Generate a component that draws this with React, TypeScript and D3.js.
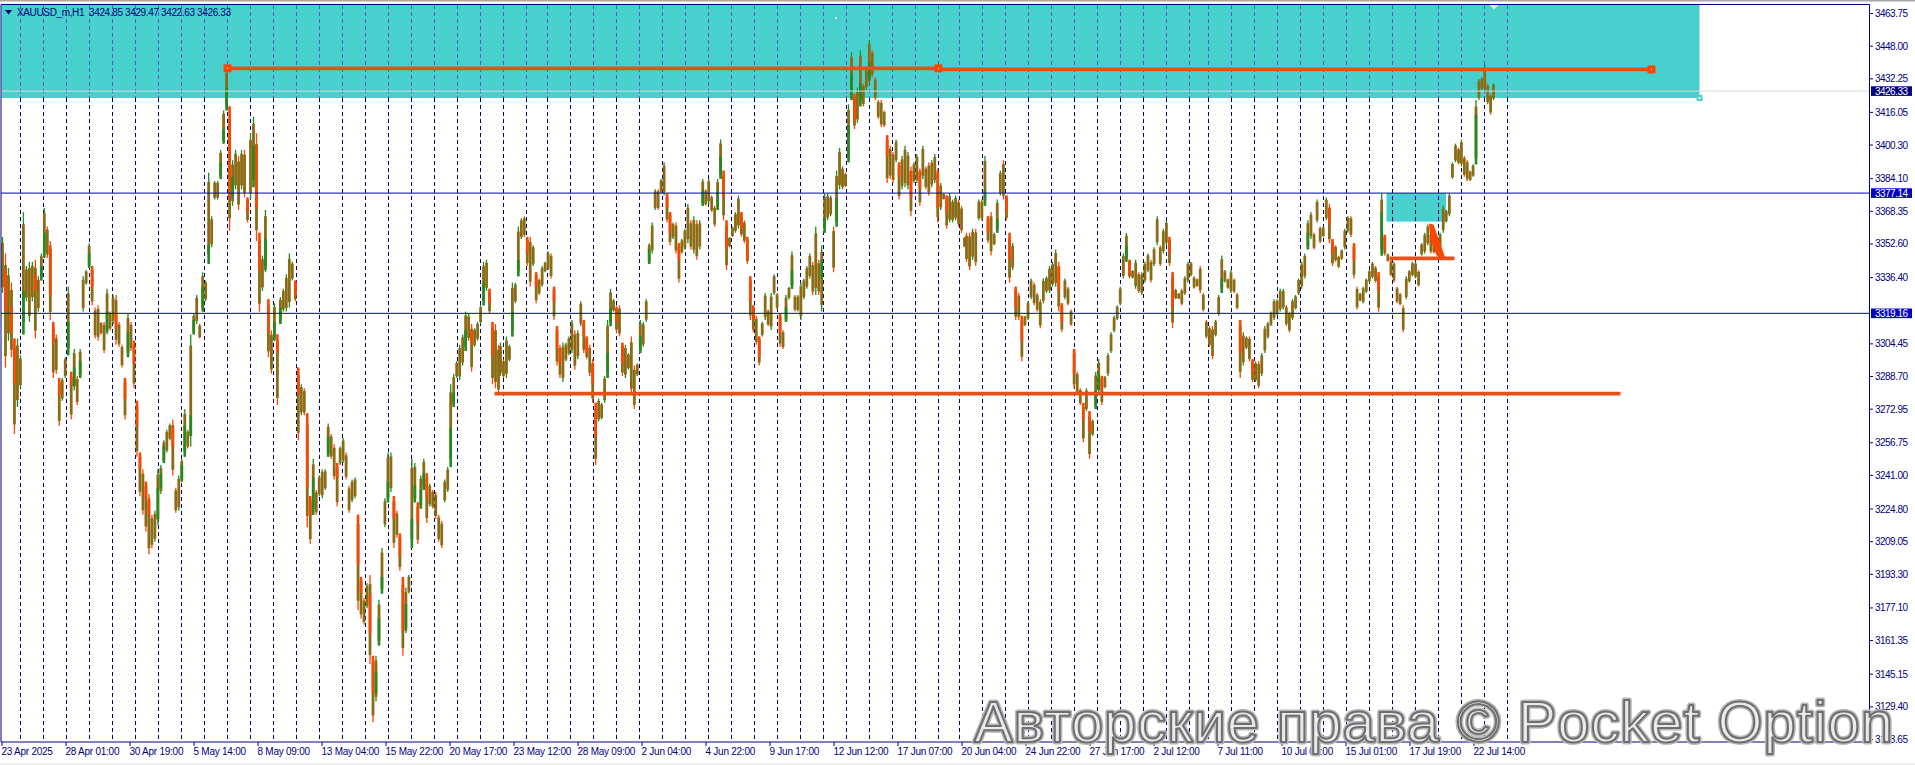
import React from "react";
import * as d3 from "d3";

const W = 1915, H = 765;
type Row = [number, number, number];

const aprilMayBars: Row[] = [
[3356,3329,3340],[3348,3293,3320],[3341,3306,3322],[3334,3298,3310],[3307,3261,3285],[3307,3274,3290],[3299,3283,3296],[3368,3309,3330],
[3342,3325,3335],[3344,3315,3335],[3344,3325,3338],[3345,3307,3330],[3337,3320,3330],[3348,3335,3342],[3370,3346,3358],[3361,3346,3352],
[3354,3316,3328],[3315,3288,3305],[3309,3290,3300],[3288,3265,3280],[3288,3277,3284],[3298,3288,3294],[3332,3299,3315],[3291,3268,3284],
[3302,3282,3293],[3289,3275,3285],[3302,3288,3296],[3337,3320,3325],[3340,3333,3337],[3353,3341,3348],[3342,3323,3332],[3322,3307,3317],
[3323,3306,3315],[3315,3309,3313],[3315,3300,3310],[3331,3309,3320],[3320,3311,3318],[3328,3314,3320],[3328,3304,3312],[3315,3303,3310],
[3304,3293,3298],[3288,3268,3278],[3319,3298,3310],[3315,3301,3308],[3306,3283,3295],[3277,3250,3265],[3252,3231,3244],[3244,3222,3238],
[3238,3214,3230],[3232,3203,3222],[3222,3206,3218],[3224,3209,3220],[3244,3217,3235],[3246,3232,3242],[3258,3247,3255],[3263,3252,3260],
[3266,3258,3264],[3268,3241,3255],[3235,3223,3232],[3241,3224,3236],[3249,3238,3246],[3273,3250,3265],[3263,3254,3260],[3309,3255,3270],
[3319,3309,3316],[3328,3314,3322],[3314,3307,3312],[3339,3320,3332],[3335,3325,3332],[3387,3343,3352],[3366,3351,3358],[3383,3374,3378],
[3383,3374,3380],[3398,3384,3392],[3417,3401,3408],[3437,3417,3428],[3419,3359,3375],[3393,3371,3385],[3398,3379,3386],[3395,3369,3380],
[3398,3379,3386],[3398,3375,3382],[3375,3363,3368],[3406,3374,3380],[3414,3380,3400],[3406,3354,3370],[3358,3320,3340],[3347,3330,3340],
[3369,3339,3355],[3326,3298,3310],[3311,3290,3305],[3324,3306,3315],[3309,3275,3300],[3327,3314,3322],[3331,3320,3326],[3338,3320,3332],
[3348,3322,3338],[3344,3335,3340],[3335,3325,3328],[3293,3258,3280],[3285,3270,3280],[3283,3270,3278],[3271,3216,3235],[3231,3208,3222],
[3249,3222,3240],[3234,3222,3232],[3241,3231,3238],[3244,3230,3240],[3244,3234,3240],[3266,3250,3260],[3261,3249,3256],[3256,3239,3250],
[3247,3226,3240],[3255,3246,3252],[3259,3247,3254],[3252,3239,3246],[3236,3223,3232],[3239,3228,3236],[3240,3230,3236],[3222,3176,3198],
[3192,3172,3184],[3182,3169,3178],[3189,3177,3184],[3193,3150,3165],[3154,3122,3136],[3154,3132,3146],[3181,3159,3172],[3206,3184,3192],
[3230,3216,3222],[3252,3228,3238],[3252,3233,3243],[3231,3206,3220],[3224,3211,3218],[3213,3195,3202],[3192,3154,3166],[3187,3165,3179],
[3193,3184,3189],[3249,3206,3220],[3247,3228,3236],[3228,3208,3218],[3241,3225,3234],[3249,3234,3242],[3242,3218,3230],[3237,3226,3232],
[3234,3225,3230],[3233,3220,3224],[3222,3209,3216],[3219,3206,3211],[3239,3228,3234],[3245,3233,3240],[3285,3245,3264],[3290,3274,3281],
[3296,3288,3291],[3304,3287,3297],[3309,3294,3301],[3320,3301,3311],[3319,3306,3311],[3314,3291,3304],[3312,3303,3307],[3315,3306,3311],
[3323,3314,3319],[3344,3323,3334],[3345,3330,3337],[3331,3319,3324],[3315,3285,3299],[3314,3283,3294],[3304,3280,3291],
];

const juneBars: Row[] = [
[3305,3289,3295],[3297,3288,3292],[3308,3288,3298],[3304,3296,3300],[3334,3308,3320],[3334,3324,3328],[3361,3337,3345],[3365,3355,3360],
[3366,3356,3358],[3356,3342,3348],[3356,3332,3345],[3352,3342,3348],[3339,3324,3332],[3336,3328,3330],[3342,3332,3335],[3344,3339,3342],
[3349,3340,3345],[3348,3336,3342],[3332,3316,3325],[3313,3294,3302],[3304,3288,3295],[3305,3286,3295],[3305,3296,3300],[3308,3299,3303],
[3316,3300,3305],[3311,3292,3300],[3311,3297,3305],[3325,3313,3318],[3316,3300,3308],[3308,3297,3300],[3304,3289,3295],[3297,3276,3285],
[3276,3246,3260],[3278,3267,3272],[3276,3268,3272],[3289,3276,3280],[3316,3288,3300],[3331,3313,3322],[3326,3320,3322],[3323,3310,3315],
[3323,3308,3312],[3305,3289,3295],[3304,3288,3295],[3300,3292,3296],[3308,3280,3290],[3294,3273,3285],[3295,3289,3292],[3316,3300,3308],
[3315,3303,3310],[3326,3315,3320],[3353,3343,3350],[3363,3348,3355],[3379,3369,3375],[3379,3369,3372],[3384,3377,3380],[3392,3376,3382],
[3377,3363,3370],[3368,3352,3358],[3363,3355,3358],[3363,3348,3356],[3353,3334,3345],[3355,3348,3352],[3360,3350,3355],[3372,3353,3360],
[3364,3350,3356],[3366,3348,3356],[3364,3345,3352],[3364,3350,3358],[3384,3371,3378],[3379,3371,3375],[3384,3372,3378],[3376,3368,3372],
[3371,3361,3365],[3384,3369,3378],[3403,3384,3395],[3388,3364,3375],[3364,3340,3350],[3356,3351,3354],[3361,3356,3358],[3368,3358,3362],
[3376,3360,3368],[3368,3356,3360],[3364,3353,3358],[3356,3343,3345],[3337,3316,3325],[3323,3310,3316],[3318,3304,3310],[3308,3294,3298],
[3315,3308,3311],[3329,3316,3322],[3321,3313,3316],[3329,3311,3318],[3338,3328,3334],[3329,3321,3324],[3319,3303,3310],[3311,3302,3306],
[3328,3315,3322],[3332,3326,3330],[3349,3331,3340],[3328,3320,3324],[3328,3320,3324],[3334,3316,3325],[3336,3326,3330],[3342,3331,3336],
[3348,3336,3342],[3344,3328,3336],[3361,3328,3340],[3345,3328,3336],[3352,3320,3345],[3377,3358,3365],[3377,3364,3370],[3376,3366,3372],
[3361,3339,3355],[3388,3361,3375],[3399,3379,3385],[3390,3379,3385],[3387,3380,3384],
];

const midJuneBars: Row[] = [
[3420,3392,3410],[3445,3422,3435],[3425,3408,3412],[3428,3411,3418],[3446,3419,3430],[3430,3419,3425],[3438,3427,3432],[3451,3429,3440],
[3446,3433,3438],[3433,3422,3428],[3422,3413,3417],[3422,3409,3415],[3417,3409,3412],[3405,3382,3395],[3400,3384,3392],[3397,3382,3390],
[3403,3392,3398],[3392,3374,3385],[3395,3379,3386],[3400,3380,3388],[3397,3379,3388],[3390,3366,3375],[3392,3382,3385],[3396,3382,3388],
[3389,3371,3380],[3400,3384,3390],[3390,3379,3385],[3392,3376,3382],[3393,3380,3386],[3396,3382,3388],[3389,3363,3370],[3382,3369,3375],
[3377,3374,3376],[3376,3360,3368],[3377,3363,3368],[3374,3363,3370],[3376,3364,3370],[3374,3361,3366],[3371,3358,3362],[3356,3351,3353],
];

const lateJuneJulyBars: Row[] = [
[3358,3344,3350],[3358,3340,3348],[3360,3345,3350],[3360,3342,3346],[3374,3364,3370],[3374,3364,3368],[3395,3371,3378],[3366,3353,3358],
[3368,3347,3355],[3358,3352,3355],[3374,3358,3365],[3388,3376,3382],[3393,3374,3380],[3376,3364,3368],[3358,3334,3345],[3353,3340,3346],
[3332,3316,3322],[3329,3316,3320],[3318,3296,3306],[3318,3313,3315],[3325,3316,3320],[3336,3326,3330],[3334,3323,3328],[3329,3320,3325],
[3326,3312,3320],[3336,3324,3328],[3337,3329,3332],[3342,3329,3336],[3344,3332,3338],[3350,3332,3342],[3344,3320,3330],[3324,3310,3315],
[3336,3326,3330],[3332,3323,3326],[3321,3313,3316],[3302,3283,3290],[3291,3280,3285],[3283,3275,3280],[3276,3257,3268],[3283,3272,3276],
[3272,3249,3262],[3268,3260,3264],[3291,3273,3282],[3297,3281,3290],[3289,3275,3282],[3289,3283,3286],[3300,3289,3295],[3310,3300,3305],
[3318,3310,3314],[3323,3316,3320],[3332,3323,3328],[3348,3336,3342],[3358,3344,3352],[3345,3336,3338],[3340,3336,3338],[3345,3331,3338],
[3339,3329,3334],[3339,3328,3334],[3344,3334,3338],[3348,3339,3344],[3345,3334,3340],[3351,3342,3346],[3366,3352,3358],[3352,3342,3346],
[3360,3348,3354],[3364,3352,3358],[3356,3342,3348],[3339,3312,3322],[3331,3326,3328],[3329,3326,3327],[3331,3323,3326],[3337,3328,3332],
[3344,3334,3340],[3344,3337,3341],[3337,3331,3334],[3336,3332,3333],[3342,3329,3332],[3329,3320,3324],[3316,3307,3310],[3313,3303,3308],
[3313,3297,3304],[3316,3308,3312],[3328,3318,3322],[3347,3329,3336],[3340,3334,3337],[3336,3331,3333],[3340,3329,3334],[3336,3329,3332],
[3329,3321,3325],[3316,3288,3300],[3310,3294,3302],[3308,3302,3305],[3308,3296,3300],[3297,3286,3290],[3296,3286,3290],[3296,3283,3288],
[3300,3289,3294],[3313,3300,3306],[3315,3307,3310],[3320,3313,3316],[3326,3316,3320],[3326,3318,3322],[3331,3320,3326],[3331,3321,3326],
[3323,3313,3318],[3320,3310,3314],[3326,3316,3322],[3328,3321,3324],[3336,3328,3332],[3344,3331,3338],[3348,3336,3342],[3364,3350,3358],
[3368,3355,3360],[3358,3350,3354],[3374,3363,3368],[3361,3353,3356],[3361,3356,3358],[3375,3364,3370],[3372,3353,3362],[3355,3342,3348],
[3352,3344,3347],[3347,3341,3344],[3350,3345,3348],[3360,3350,3355],[3366,3358,3362],[3366,3356,3360],[3353,3336,3345],[3332,3321,3326],
[3329,3325,3327],[3332,3324,3328],[3336,3329,3332],[3340,3334,3338],[3344,3336,3340],[3342,3334,3339],[3339,3320,3330],[3377,3347,3368],
[3357,3347,3350],[3348,3344,3346],[3345,3337,3340],[3344,3334,3338],[3332,3324,3328],[3329,3323,3326],[3323,3310,3318],[3337,3326,3332],
[3340,3334,3337],[3344,3337,3340],[3344,3336,3340],[3340,3332,3336],[3353,3347,3350],[3358,3348,3352],[3362,3352,3356],[3358,3348,3352],
[3355,3348,3350],[3353,3347,3350],[3358,3350,3354],[3371,3358,3364],[3369,3363,3366],[3377,3366,3372],[3392,3384,3388],[3401,3392,3396],
];

const finalBars: Row[] = [
[3399,3391,3395],[3403,3390,3398],[3395,3385,3390],[3393,3383,3387],[3388,3383,3385],[3391,3385,3388],[3422,3391,3415],[3432,3422,3428],
[3433,3427,3430],[3439,3426,3430],[3430,3420,3424],[3425,3415,3422],[3430,3422,3426.33],
];

// Stretch of the time axis (in hourly bars) that each list above covers.
const barStretches: [Row[], number, number][] = [
  [aprilMayBars, 0, 496],
  [juneBars, 498, 843],
  [midJuneBars, 846, 962],
  [lateJuneJulyBars, 964, 1453],
  [finalBars, 1456, 1491],
];

const priceTicks = ["3463.75","3448.00","3432.25","3416.05","3400.30","3384.10","3368.35","3352.60","3336.40","3304.45","3288.70","3272.95","3256.75","3241.00","3224.80","3209.05","3193.30","3177.10","3161.35","3145.15","3129.40","3113.65"];
const timeLabels = ["23 Apr 2025","28 Apr 01:00","30 Apr 19:00","5 May 14:00","8 May 09:00","13 May 04:00","15 May 22:00","20 May 17:00","23 May 12:00","28 May 09:00","2 Jun 04:00","4 Jun 22:00","9 Jun 17:00","12 Jun 12:00","17 Jun 07:00","20 Jun 04:00","24 Jun 22:00","27 Jun 17:00","2 Jul 12:00","7 Jul 11:00","10 Jul 06:00","15 Jul 01:00","17 Jul 19:00","22 Jul 14:00"];
const barsPerLabel = 64;
const periodSeparatorBars = [18,41,64,87,110,133,156,179,202,225,248,271,294,317,340,363,386,409,432,455,478,501,524,545,568,591,614,637,660,683,706,729,752,775,798,821,844,867,890,913,936,957,980,1003,1026,1049,1072,1095,1118,1141,1164,1187,1206,1229,1252,1275,1298,1321,1344,1367,1390,1413,1436,1459,1482,1505];
const levelPrices = [3377.14, 3319.16];
const lastPrice = 3426.33;
const headerText = "XAUUSD_m,H1  3424.85 3429.47 3422.63 3426.33";
const watermark = "Авторские права © Pocket Option";

// Drawn objects, as [bar, price].
const bigZone = { bars: [-1, 1697], prices: [3468.1, 3423.0] };
const smallZone = { bars: [1384, 1443.5], prices: [3377.14, 3363.4] };
const trendLines: [number, number, number, number][] = [
  [225, 3437.3, 936, 3437.3],
  [936, 3436.8, 1649, 3436.8],
  [492, 3280.4, 1618, 3280.4],
  [1387, 3345.7, 1452, 3345.7],
];
const trendAnchors: [number, number][] = [[225, 3437.3], [936, 3437.3], [1649, 3436.8]];
const wedge: [number, number][] = [[1426.5, 3362.5], [1431, 3362], [1443, 3345.7], [1436, 3345.7], [1431, 3351], [1428, 3354]];

const xScale = d3.scaleLinear().domain([0, 1868]).range([2.5, 1870.5]);
const yScale = d3.scaleLinear().domain([3463.75, 3113.65]).range([13.5, 739.5]);

const GREEN = "#228B22", ORANGE = "#FF4500", OLIVE = "#8B6B14", NAVY = "#000080", BLUE = "#0000CD", TEAL = "#48D1CC";
const FONT = "'Liberation Sans', Arial, sans-serif";

const bars = barStretches.flatMap(([rows, from, to]) => {
  const pos = d3.scaleLinear().domain([0, rows.length - 1]).range([from, to]);
  return rows.map((r, i) => ({ bar: pos(i), high: r[0], low: r[1], close: r[2] }));
});

export default function App() {
  const plotLeft = 1, plotRight = 1869.5, plotTop = 4.5, plotBottom = 742;
  const bandBottom = yScale(bigZone.prices[1]);
  return (
    <svg width={W} height={H} viewBox={`0 0 ${W} ${H}`} style={{ position: "absolute", left: 0, top: 0, display: "block", background: "#fff" }}>
      <defs>
        <filter id="soft" x="-2%" y="-10%" width="104%" height="120%"><feGaussianBlur stdDeviation="0.7" /></filter>
      </defs>
      <rect x={0} y={0} width={W} height={1.5} fill="#a8a8a8" />
      <rect x={0} y={763} width={W} height={2} fill="#f0f0f0" />

      <rect x={xScale(bigZone.bars[0])} y={yScale(bigZone.prices[0])} width={xScale(bigZone.bars[1]) - xScale(bigZone.bars[0])} height={bandBottom - yScale(bigZone.prices[0])} fill={TEAL} />
      <rect x={xScale(smallZone.bars[0])} y={yScale(smallZone.prices[0])} width={xScale(smallZone.bars[1]) - xScale(smallZone.bars[0])} height={yScale(smallZone.prices[1]) - yScale(smallZone.prices[0])} fill={TEAL} />

      {periodSeparatorBars.map((b) => (
        <g key={b} shapeRendering="crispEdges">
          <line x1={xScale(b)} x2={xScale(b)} y1={bandBottom} y2={plotBottom} stroke="#00006e" strokeWidth={1} strokeDasharray="4 3" />
          <line x1={xScale(b)} x2={xScale(b)} y1={plotTop} y2={bandBottom} stroke="#6a50c4" strokeWidth={1} strokeDasharray="4 3" />
        </g>
      ))}

      <g>
        {bars.map((d, i) => {
          const open = i ? Math.min(d.high, Math.max(d.low, bars[i - 1].close)) : d.close;
          const up = d.close >= open;
          const wick = up ? GREEN : ORANGE;
          const strong = Math.abs(d.close - open) > 6;
          const x = xScale(d.bar);
          const bTop = Math.min(yScale(open), yScale(d.close));
          const bH = Math.max(1, Math.abs(yScale(open) - yScale(d.close)));
          const span = yScale(d.low) - yScale(d.high);
          return (
            <g key={i}>
              <line x1={x} x2={x} y1={yScale(d.high)} y2={yScale(d.low)} stroke={wick} strokeWidth={1.3} />
              <rect x={x - 1.4} y={yScale(d.high) + span * 0.1} width={2.8} height={span * 0.8} fill={OLIVE} />
              {strong && <rect x={x - 1.3} y={bTop} width={2.6} height={bH} fill={up ? GREEN : ORANGE} />}
            </g>
          );
        })}
      </g>

      <line x1={plotLeft} x2={plotRight} y1={yScale(lastPrice)} y2={yScale(lastPrice)} stroke="#dcdcdc" strokeWidth={1} />
      {levelPrices.map((p) => (
        <line key={p} x1={plotLeft} x2={plotRight} y1={yScale(p)} y2={yScale(p)} stroke={BLUE} strokeWidth={1} />
      ))}

      {trendLines.map((t, i) => (
        <line key={i} x1={xScale(t[0])} x2={xScale(t[2])} y1={yScale(t[1])} y2={yScale(t[3])} stroke="#E8501A" strokeWidth={3.8} />
      ))}
      <polygon points={wedge.map((p) => `${xScale(p[0])},${yScale(p[1])}`).join(" ")} fill={ORANGE} />
      {trendAnchors.map((a, i) => (
        <g key={i}>
          <rect x={xScale(a[0]) - 4} y={yScale(a[1]) - 4} width={8} height={8} fill={ORANGE} />
          <rect x={xScale(a[0]) - 0.5} y={yScale(a[1]) - 0.5} width={1} height={1} fill="#fff" />
        </g>
      ))}
      <rect x={xScale(bigZone.bars[1]) - 3} y={bandBottom - 3} width={6} height={6} fill={TEAL} />
      <rect x={xScale(bigZone.bars[1]) - 1} y={bandBottom - 1} width={2} height={2} fill="#fff" />
      <polygon points="1489,4.5 1499,4.5 1494,9.5" fill="#dde6e6" />
      <rect x={835} y={17} width={2} height={2} fill="#e8f8f8" />

      {/* frame */}
      <path d={`M${plotLeft} ${plotBottom}V${plotTop}H${plotRight}V${plotBottom}Z`} fill="none" stroke={NAVY} strokeWidth={1} />

      {/* header */}
      <polygon points="5,10 12,10 8.5,14.5" fill={NAVY} />
      <text x={17} y={16} fontFamily={FONT} fontSize={10} fill={NAVY} textLength={214} xmlSpace="preserve">{headerText}</text>

      {/* price axis */}
      {priceTicks.map((t) => {
        const y = yScale(+t);
        return (
          <g key={t}>
            <line x1={1870} x2={1873} y1={y} y2={y} stroke={NAVY} />
            <text x={1875} y={y + 3.5} fontFamily={FONT} fontSize={10} fill={NAVY} textLength={33}>{t}</text>
          </g>
        );
      })}
      {[{ p: lastPrice, c: NAVY }, { p: levelPrices[0], c: BLUE }, { p: levelPrices[1], c: BLUE }].map(({ p, c }) => (
        <g key={p}>
          <rect x={1871} y={yScale(p) - 4.8} width={41} height={9.6} fill={c} />
          <text x={1875} y={yScale(p) + 3.5} fontFamily={FONT} fontSize={10} fill="#fff" textLength={33}>{p.toFixed(2)}</text>
        </g>
      ))}

      {/* time axis */}
      {timeLabels.map((t, i) => {
        const x = xScale(i * barsPerLabel) - 0.5;
        return (
          <g key={t}>
            <line x1={x} x2={x} y1={plotBottom} y2={plotBottom + 4} stroke={NAVY} />
            <text x={x - 0.5} y={755} fontFamily={FONT} fontSize={10} fill={NAVY} letterSpacing={-0.25}>{t}</text>
          </g>
        );
      })}

      {/* watermark */}
      <g filter="url(#soft)">
        <text x={974} y={742} fontFamily={FONT} fontSize={58} textLength={919} fill="none" stroke="#b8b8b8" strokeWidth={5} strokeLinejoin="round">{watermark}</text>
        <text x={974} y={742} fontFamily={FONT} fontSize={58} textLength={919} fill="#f6f8fa" fillOpacity={0.75} stroke="#6e6e6e" strokeWidth={2} strokeLinejoin="round">{watermark}</text>
      </g>
    </svg>
  );
}
